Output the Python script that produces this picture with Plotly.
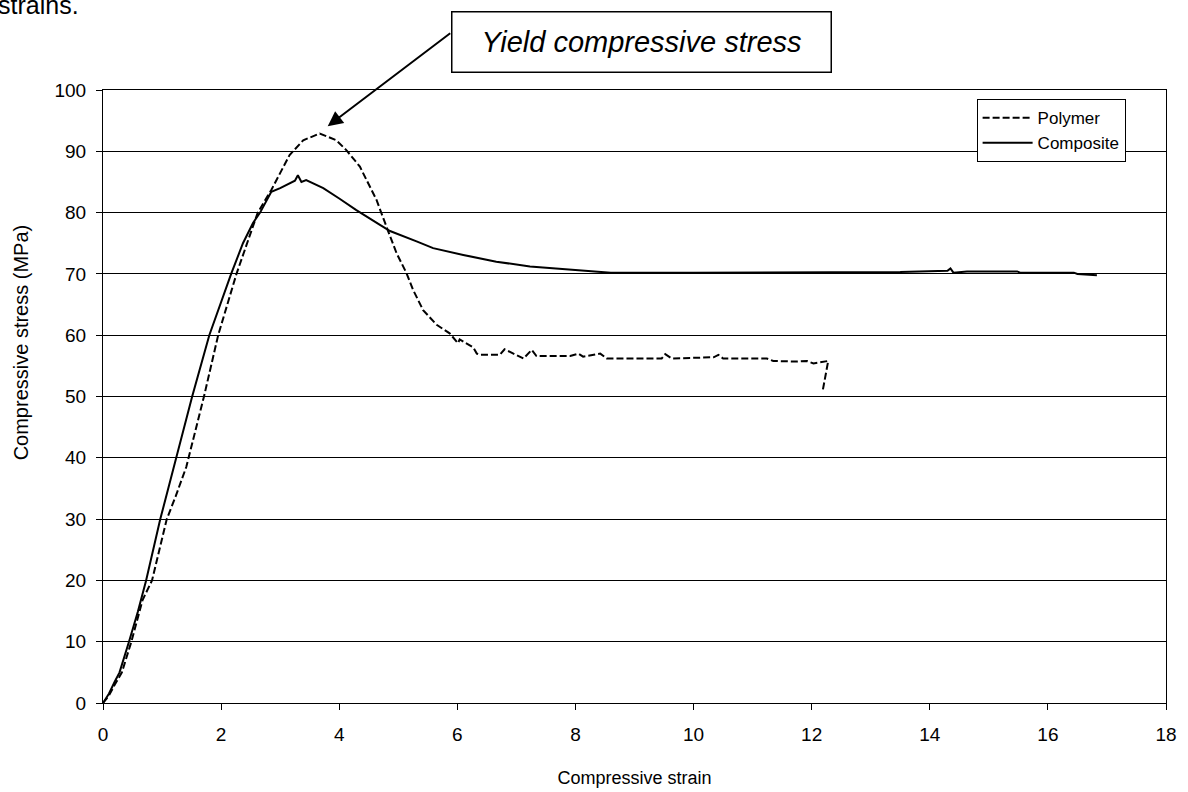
import plotly.graph_objects as go

# ---- data ----
polymer_strain = [0, 0.1, 0.2, 0.32, 0.48, 0.67, 0.83, 1.08, 1.23, 1.41, 1.71, 1.95, 2.26, 2.62, 2.85,
                  3.16, 3.39, 3.67, 3.95, 4.12, 4.35, 4.63, 4.80, 4.97, 5.14, 5.25, 5.42, 5.65, 5.87,
                  6.01, 6.04, 6.27, 6.33, 6.38, 6.72, 6.80, 6.95, 7.12, 7.26, 7.34, 7.91, 8.05, 8.13,
                  8.42, 8.53, 9.46, 9.52, 9.63, 10.34, 10.42, 10.50, 11.24, 11.35, 11.75, 11.92, 12.03,
                  12.28, 12.19]
polymer_stress = [0, 1.2, 3.0, 5.0, 10.0, 16.8, 20.0, 30.0, 33.7, 38.5, 50.0, 60.0, 70.0, 80.0, 83.7,
                  89.4, 91.8, 92.9, 91.8, 90.2, 87.5, 82.1, 77.7, 73.4, 70.1, 67.4, 64.1, 61.7, 60.3,
                  58.7, 59.3, 58.0, 57.0, 56.8, 56.8, 57.7, 57.0, 56.2, 57.6, 56.6, 56.6, 57.0, 56.5,
                  57.0, 56.2, 56.2, 56.9, 56.2, 56.4, 56.8, 56.2, 56.2, 55.8, 55.7, 55.8, 55.4,
                  55.8, 51.1]

composite_strain = [0, 0.1, 0.2, 0.28, 0.44, 0.59, 0.73, 0.97, 1.24, 1.51, 1.80, 2.17, 2.37, 2.54, 2.66,
                    2.80, 2.85, 3.00, 3.16, 3.25, 3.30, 3.36, 3.44, 3.73, 4.00, 4.29, 4.69, 4.86, 5.31,
                    5.59, 6.10, 6.66, 7.23, 7.85, 8.40, 8.60, 10.0, 12.0, 12.82, 13.10, 13.50, 14.30,
                    14.35, 14.40, 14.63, 15.48, 15.53, 16.44, 16.50, 16.83]
composite_stress = [0, 1.5, 3.5, 5.0, 10.0, 14.9, 20.0, 30.0, 40.0, 50.0, 60.0, 70.0, 75.0, 78.3, 80.0,
                    82.6, 83.4, 84.0, 84.8, 85.2, 86.1, 85.0, 85.3, 84.0, 82.3, 80.4, 78.0, 77.0, 75.3,
                    74.2, 73.1, 72.0, 71.2, 70.7, 70.3, 70.2, 70.2, 70.2, 70.3, 70.3, 70.3, 70.5,
                    70.9, 70.2, 70.4, 70.4, 70.2, 70.2, 70.0, 69.8]

x_ticks = [0, 2, 4, 6, 8, 10, 12, 14, 16, 18]
y_ticks = [0, 10, 20, 30, 40, 50, 60, 70, 80, 90, 100]

FONT = "Liberation Sans, Arial, sans-serif"

fig = go.Figure()
fig.add_trace(go.Scatter(x=polymer_strain, y=polymer_stress, mode="lines", name="Polymer",
                         line=dict(color="black", width=2, dash="7px,3px")))
fig.add_trace(go.Scatter(x=composite_strain, y=composite_stress, mode="lines", name="Composite",
                         line=dict(color="black", width=2)))

fig.update_layout(
    width=1188, height=792,
    margin=dict(l=103, r=22, t=90, b=89),
    paper_bgcolor="white", plot_bgcolor="white",
    font=dict(family=FONT, color="black", size=19),
    showlegend=True,
    legend=dict(x=0.962, y=0.985, xanchor="right", yanchor="top",
                bordercolor="black", borderwidth=1, bgcolor="white",
                font=dict(size=17), tracegroupgap=0, itemwidth=50),
    xaxis=dict(range=[0, 18], tickvals=x_ticks, ticks="outside", ticklen=6, tickcolor="black",
               showline=True, linecolor="black", linewidth=1, mirror=True, automargin=False,
               showgrid=False, zeroline=False, ticklabelstandoff=8,
               title=dict(text="Compressive strain", font=dict(size=18), standoff=27),
               tickfont=dict(size=19)),
    yaxis=dict(range=[0, 100], tickvals=y_ticks, ticks="outside", ticklen=6, tickcolor="black",
               showline=True, linecolor="black", linewidth=1, mirror=True, automargin=False,
               showgrid=True, gridcolor="black", gridwidth=1, zeroline=False, ticklabelstandoff=6,
               tickfont=dict(size=19)),
)

# y-axis title (placed as in the reference, above the plot centre)
fig.add_annotation(xref="paper", yref="paper", x=-0.0768, y=0.5889, xanchor="center", yanchor="middle",
                   text="Compressive stress (MPa)", textangle=-90, showarrow=False,
                   font=dict(size=20, family=FONT))
# callout box
fig.add_annotation(xref="paper", yref="paper", x=0.5063, y=1.0788, xanchor="center", yanchor="middle",
                   text="<i>Yield compressive stress</i>", showarrow=False,
                   font=dict(size=29, family=FONT), bordercolor="black", borderwidth=1.5,
                   borderpad=0, width=378, height=59, bgcolor="white")
# arrow pointing to the polymer peak
fig.add_annotation(x=3.805, y=94.1, xref="x", yref="y", text="", showarrow=True,
                   ax=124, ay=-94, arrowhead=2, arrowsize=1.5, arrowwidth=2, arrowcolor="black")
# clipped text from the page above
fig.add_annotation(xref="paper", yref="paper", x=-0.1003, y=1.1387, xanchor="left", yanchor="middle",
                   text="strains.", showarrow=False, font=dict(size=25, family=FONT))

fig.write_html("out.html", config={"displayModeBar": False},
               post_script="document.body.style.margin='0px';")
